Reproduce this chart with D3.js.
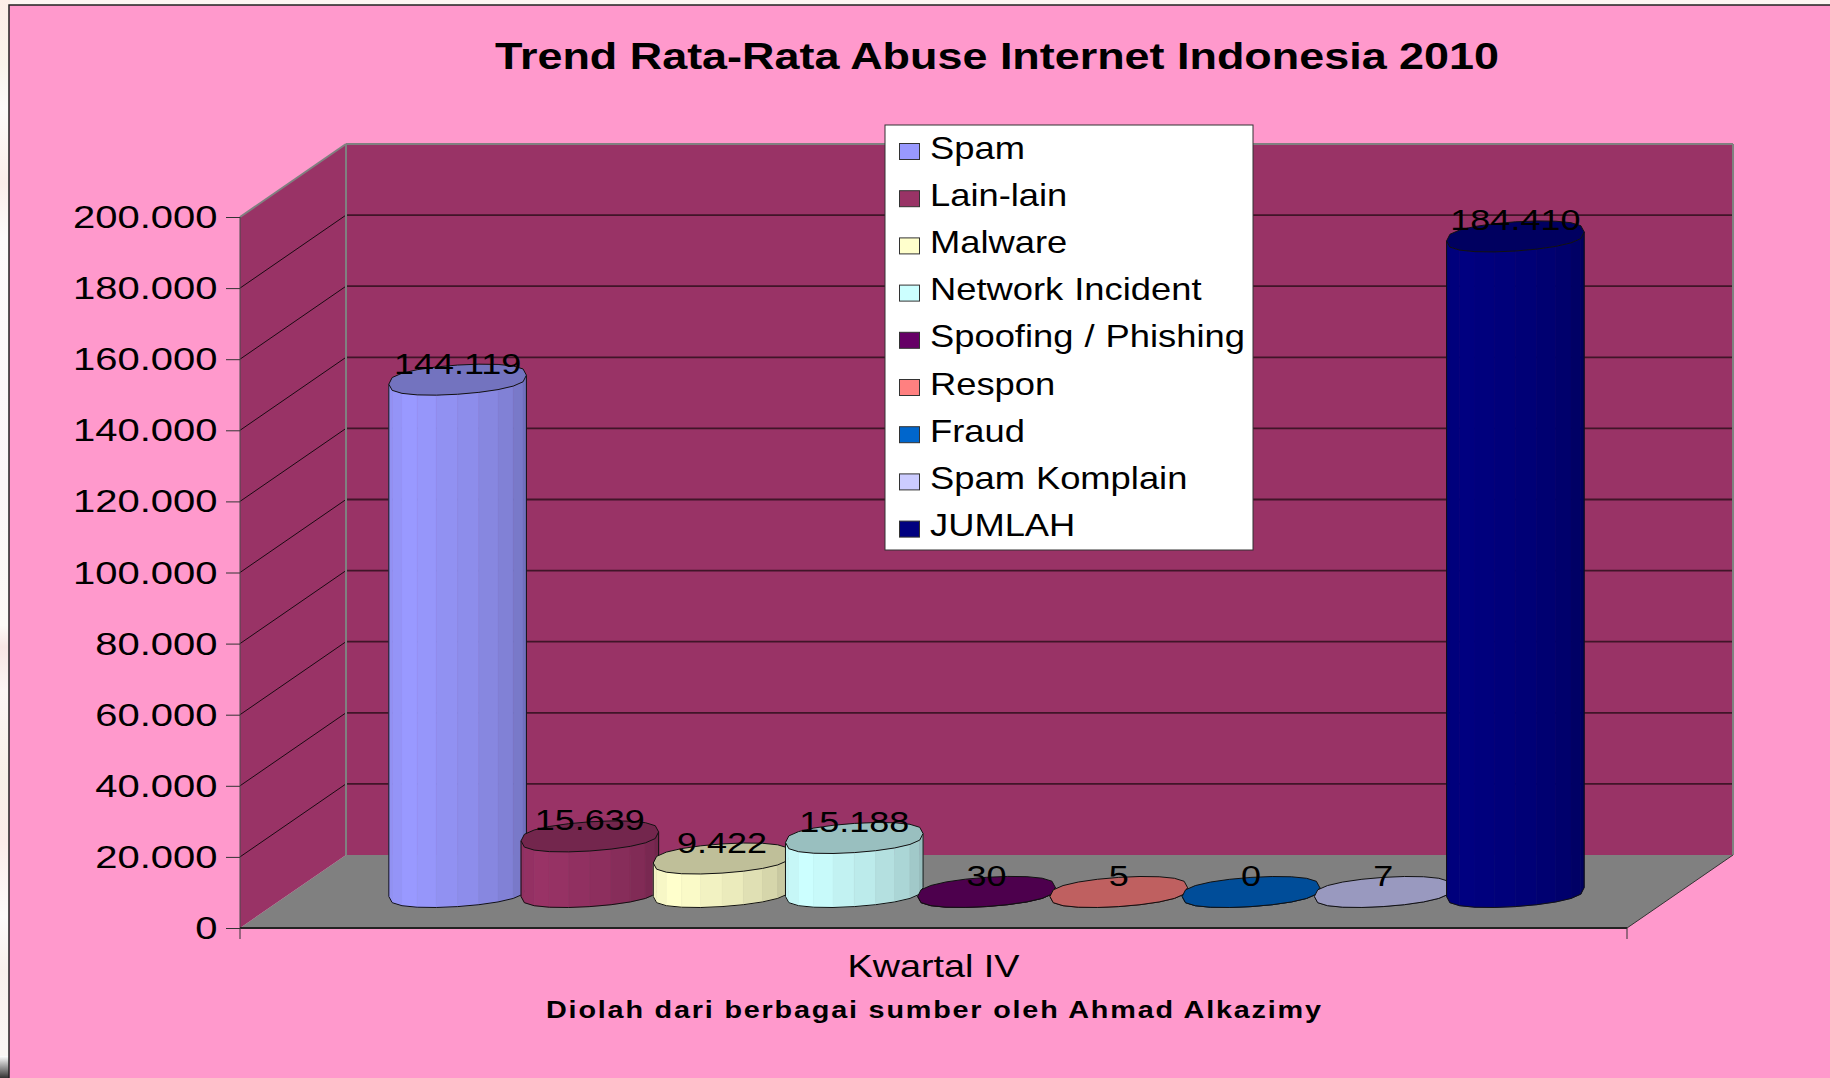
<!DOCTYPE html>
<html><head><meta charset="utf-8">
<script src="https://cdn.jsdelivr.net/npm/d3@7"></script>
<style>html,body{margin:0;padding:0;background:#fdf6f3;overflow:hidden}text{font-family:"Liberation Sans",Arial,sans-serif;fill:#000}</style>
</head><body><svg id="c" width="1830" height="1078"></svg>
<script>
const seriesNames=["Spam","Lain-lain","Malware","Network Incident","Spoofing / Phishing","Respon","Fraud","Spam Komplain","JUMLAH"];
const seriesValues=[144119,15639,9422,15188,30,5,0,7,184410];
const seriesColors=["#9999FF","#993366","#FFFFCC","#CCFFFF","#660066","#FF8080","#0066CC","#CCCCFF","#000080"];
const yTicks=[0,20000,40000,60000,80000,100000,120000,140000,160000,180000,200000];
const categoryLabel="Kwartal IV";
const titleText="Trend Rata-Rata Abuse Internet Indonesia 2010";
const sourceText="Diolah dari berbagai sumber oleh Ahmad Alkazimy";
const facetShade=[.95,.97,1,.98,.95,.92,.88,.84,.79,.74];
const stripStops=[[0,"#fdeee8"],[.06,"#f9f4ec"],[.1,"#fcfbfa"],[.17,"#fbeeea"],[.22,"#fdfbfb"],[.45,"#fbf6f8"],[.58,"#fcfaf6"],[.6,"#f8e6e4"],[.64,"#fcf6f4"],[.72,"#f7f1e8"],[.78,"#fcecea"],[.85,"#fdfbfa"],[.9,"#f8f1ec"],[.97,"#faf6f4"]];

const svg=d3.select("#c");
const fmt=d3.formatLocale({decimal:",",thousands:".",grouping:[3],currency:["",""]}).format(",d");
const x0=240,x1=1627,yBase=928,yTop=217,depthX=106,depthY=73;
const y=d3.scaleLinear().domain([0,200000]).range([yBase,yTop]);
const x=d3.scaleBand().domain(seriesNames).range([x0+depthX/2,x1+depthX/2]).paddingInner(0).paddingOuter(.745);
const poly=d3.line();

const defs=svg.append("defs");
const st=defs.append("linearGradient").attr("id","strip").attr("x1",0).attr("y1",0).attr("x2",0).attr("y2",1);
st.selectAll("stop").data(stripStops).join("stop").attr("offset",d=>d[0]).attr("stop-color",d=>d[1]);
svg.append("rect").attr("x",0).attr("y",0).attr("width",10).attr("height",1078).attr("fill","url(#strip)");
const lg=defs.append("linearGradient").attr("id","corner").attr("x1",0).attr("y1",0).attr("x2",0).attr("y2",1);
lg.append("stop").attr("offset",0).attr("stop-color","#fff");lg.append("stop").attr("offset",1).attr("stop-color","#333");
svg.append("rect").attr("x",0).attr("y",1056).attr("width",9).attr("height",22).attr("fill","url(#corner)");
svg.append("rect").attr("x",9).attr("y",5).attr("width",1830).attr("height",1080).attr("fill","#FF99CC").attr("stroke","#222").attr("stroke-width",1.5);

// walls & floor
const wall="#993366";
svg.append("path").attr("fill",wall).attr("d",poly([[x0+depthX,yTop-depthY],[x1+depthX,yTop-depthY],[x1+depthX,yBase-depthY],[x0+depthX,yBase-depthY]])+"Z");
svg.append("path").attr("fill",wall).attr("d",poly([[x0,yTop],[x0+depthX,yTop-depthY],[x0+depthX,yBase-depthY],[x0,yBase]])+"Z");
svg.append("path").attr("fill","#808080").attr("d",poly([[x0,yBase],[x0+depthX,yBase-depthY],[x1+depthX,yBase-depthY],[x1,yBase]])+"Z");
const grid=yTicks.filter(d=>d>0&&d<200000);
svg.append("g").selectAll("line").data(grid).join("line")
 .attr("x1",x0+depthX).attr("x2",x1+depthX).attr("y1",d=>y(d)-depthY).attr("y2",d=>y(d)-depthY).attr("stroke","#401528").attr("stroke-width",1.8);
svg.append("g").selectAll("line").data(grid).join("line")
 .attr("x1",x0).attr("x2",x0+depthX).attr("y1",d=>y(d)).attr("y2",d=>y(d)-depthY).attr("stroke","#1a0a12").attr("stroke-width",1);
const edge=(a,b,c,w)=>svg.append("path").attr("d",poly([a,b])).attr("stroke",c).attr("stroke-width",w).attr("fill","none");
edge([x0,yTop],[x0+depthX,yTop-depthY],"#808080",2);
edge([x0+depthX,yTop-depthY],[x1+depthX,yTop-depthY],"#808080",2);
edge([x0+depthX,yTop-depthY],[x0+depthX,yBase-depthY],"#808080",2);
edge([x1+depthX,yTop-depthY],[x1+depthX,yBase-depthY],"#808080",2);
edge([x0,yTop],[x0,yBase],"#4a4a4a",1);
edge([x0,yBase],[x1,yBase],"#222",2);
edge([x1,yBase],[x1+depthX,yBase-depthY],"#333",1);
edge([x1,yBase],[x1,yBase+11],"#333",1);
edge([x0,yBase],[x0,yBase+11],"#333",1);

// y axis
const sxTick=1.29;
const ax=svg.append("g").attr("transform",`translate(${x0},0)`).call(d3.axisLeft(y).tickValues(yTicks).tickFormat(fmt).tickSize(14).tickPadding(9));
ax.select(".domain").remove();
ax.selectAll("line").attr("stroke","#333").attr("stroke-width",1);
ax.selectAll("text").attr("font-size",31).attr("font-family",'"Liberation Sans"').attr("fill","#000").attr("dy",null).attr("x",-22.5/sxTick).attr("y",10.5).attr("transform",`scale(${sxTick},1)`);

// cylinders
const rx=68.8,capA=14.6,capSkew=4.5,capRound=.7,segs=20,midDepth=36;
const pt=(cx,cy,t)=>{const s=Math.sin(t);return[cx+rx*Math.cos(t),cy+capA*Math.sign(s)*Math.pow(Math.abs(s),capRound)-capSkew*Math.cos(t)];};
const angles=d3.range(segs).map(i=>i*2*Math.PI/segs);
seriesNames.forEach((name,i)=>{
  const v=seriesValues[i],col=d3.color(seriesColors[i]);
  const cx=x(name)+x.bandwidth()/2,topY=y(v)-midDepth,botY=yBase-midDepth;
  const g=svg.append("g");
  const front=d3.range(0,segs/2).map(k=>{const t0=Math.PI-k*2*Math.PI/segs,t1=t0-2*Math.PI/segs;return{k,t0,t1};});
  const shade=f=>d3.rgb(col.r*f,col.g*f,col.b*f).formatHex();
  g.selectAll("path.f").data(front).join("path").attr("class","f")
   .attr("d",d=>poly([pt(cx,topY,d.t0),pt(cx,topY,d.t1),pt(cx,botY,d.t1),pt(cx,botY,d.t0)])+"Z")
   .attr("fill",d=>shade(facetShade[d.k])).attr("stroke",d=>shade(facetShade[d.k])).attr("stroke-width",.6);
  const outline=[pt(cx,topY,Math.PI),pt(cx,botY,Math.PI),...front.map(d=>pt(cx,botY,d.t1)),pt(cx,topY,0)];
  g.append("path").attr("d",poly(outline)).attr("fill","none").attr("stroke","#111").attr("stroke-width",1);
  g.append("path").attr("d",poly(angles.map(t=>pt(cx,topY,t)))+"Z").attr("fill",shade(.75)).attr("stroke","#111").attr("stroke-width",1);
});
// data labels
const sxLabel=1.2;
svg.append("g").selectAll("text").data(seriesNames).join("text")
 .attr("text-anchor","middle").attr("font-size",30)
 .attr("transform",(d,i)=>`translate(${x(d)+x.bandwidth()/2},${y(seriesValues[i])-midDepth-6}) scale(${sxLabel},1)`)
 .text((d,i)=>fmt(seriesValues[i]));

// legend
const lx=885,ly=125,lw=368,lh=425,step=47.2;
svg.append("rect").attr("x",lx).attr("y",ly).attr("width",lw).attr("height",lh).attr("fill","#fff").attr("stroke","#333").attr("stroke-width",1);
const row=svg.append("g").selectAll("g").data(seriesNames).join("g").attr("transform",(d,i)=>`translate(${lx},${ly+33.5+i*step})`);
row.append("rect").attr("x",14.5).attr("y",-15).attr("width",20).attr("height",16).attr("fill",(d,i)=>seriesColors[i]).attr("stroke","#333").attr("stroke-width",1);
row.append("text").attr("font-size",31).attr("transform","translate(45,0) scale(1.172,1)").attr("word-spacing",.8).text(d=>d);

// titles
svg.append("text").attr("x",997).attr("y",69).attr("text-anchor","middle").attr("font-size",37).attr("font-weight","bold").attr("textLength",1004).attr("lengthAdjust","spacingAndGlyphs").text(titleText);
svg.append("text").attr("x",933.5).attr("y",977).attr("text-anchor","middle").attr("font-size",31.5).attr("textLength",172).attr("lengthAdjust","spacingAndGlyphs").text(categoryLabel);
const sxSrc=1.2;
svg.append("text").attr("transform",`translate(933.5,1018) scale(${sxSrc},1)`).attr("text-anchor","middle").attr("font-size",24).attr("font-weight","bold").attr("textLength",775/sxSrc).attr("lengthAdjust","spacing").text(sourceText);
</script></body></html>
